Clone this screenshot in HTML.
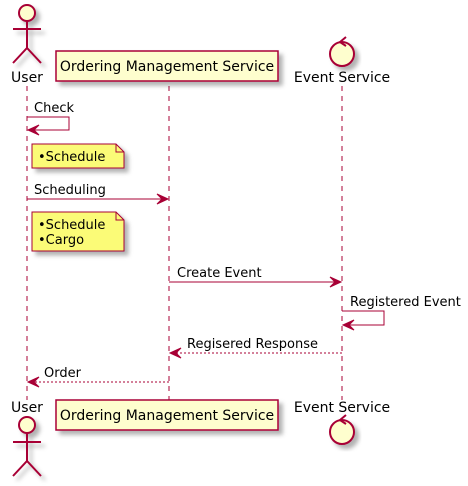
<!DOCTYPE html>
<html><head><meta charset="utf-8"><style>html,body{margin:0;padding:0;background:#fff}svg{display:block}text{font-family:"DejaVu Sans",sans-serif;font-size:13px;fill:#000}</style></head><body>
<svg width="468" height="486" viewBox="0 0 468 486" xmlns="http://www.w3.org/2000/svg">
<defs><filter id="sh" x="-20%" y="-20%" width="150%" height="150%"><feDropShadow dx="4" dy="4" stdDeviation="2" flood-color="#000" flood-opacity="0.3"/></filter></defs>
<g stroke="#A80036" stroke-width="1" stroke-dasharray="5,5">
<line x1="27" y1="86" x2="27" y2="400"/>
<line x1="169" y1="86" x2="169" y2="400"/>
<line x1="342" y1="86" x2="342" y2="400"/>
</g>
<g stroke="#A80036" stroke-width="2" fill="#FEFECE" filter="url(#sh)">
<circle cx="27" cy="13" r="8"/>
<line x1="27" y1="21" x2="27" y2="48"/><line x1="13" y1="29" x2="41" y2="29"/>
<polyline points="13,63 27,48 41,63" fill="none"/>
</g>
<text x="27" y="82" text-anchor="middle" style="font-size:14px">User</text>
<rect x="56" y="51" width="222" height="30" fill="#FEFECE" stroke="#A80036" stroke-width="1.5" filter="url(#sh)"/>
<text x="167" y="71" text-anchor="middle" style="font-size:14px">Ordering Management Service</text>
<g filter="url(#sh)"><circle cx="342" cy="54" r="12" fill="#FEFECE" stroke="#A80036" stroke-width="2"/></g>
<polyline points="346,37 340,42 346,46" fill="none" stroke="#A80036" stroke-width="2"/>
<text x="342" y="82" text-anchor="middle" style="font-size:14px">Event Service</text>
<text x="27" y="412" text-anchor="middle" style="font-size:14px">User</text>
<g stroke="#A80036" stroke-width="2" fill="#FEFECE" filter="url(#sh)">
<circle cx="27" cy="425" r="8"/>
<line x1="27" y1="433" x2="27" y2="461"/><line x1="13" y1="442" x2="41" y2="442"/>
<polyline points="13,476 27,461 41,476" fill="none"/>
</g>
<rect x="56" y="400" width="222" height="30" fill="#FEFECE" stroke="#A80036" stroke-width="1.5" filter="url(#sh)"/>
<text x="167" y="420" text-anchor="middle" style="font-size:14px">Ordering Management Service</text>
<text x="342" y="412" text-anchor="middle" style="font-size:14px">Event Service</text>
<g filter="url(#sh)"><circle cx="342" cy="432" r="12" fill="#FEFECE" stroke="#A80036" stroke-width="2"/></g>
<polyline points="346,415 340,420 346,424" fill="none" stroke="#A80036" stroke-width="2"/>
<g stroke="#A80036" stroke-width="1" fill="none">
<polyline points="27,117 69,117 69,130 28,130"/>
<line x1="27" y1="199" x2="168" y2="199"/>
<line x1="169" y1="282" x2="341" y2="282"/>
<polyline points="342,311 384,311 384,325 343,325"/>
<line x1="342" y1="353" x2="170" y2="353" stroke-dasharray="2,2"/>
<line x1="169" y1="382" x2="28" y2="382" stroke-dasharray="2,2"/>
</g>
<g fill="#A80036" stroke="#A80036" stroke-width="1">
<polygon points="28,130 39,125 34,130 39,135"/>
<polygon points="168,199 157,194 162,199 157,204"/>
<polygon points="341,282 330,277 335,282 330,287"/>
<polygon points="343,325 354,320 349,325 354,330"/>
<polygon points="170,353 181,348 176,353 181,358"/>
<polygon points="28,382 39,377 34,382 39,387"/>
</g>
<text x="34" y="112">Check</text>
<text x="34" y="194">Scheduling</text>
<text x="177" y="277">Create Event</text>
<text x="350" y="306">Registered Event</text>
<text x="187" y="348">Regisered Response</text>
<text x="44" y="377">Order</text>
<g fill="#FBFB77" stroke="#A80036" stroke-width="1" filter="url(#sh)">
<path d="M32,144 H116 L124,152 V168 H32 Z"/>
<path d="M32,212 H116 L124,220 V251 H32 Z"/>
</g>
<g fill="none" stroke="#A80036"><path d="M116,144 V152 H124"/><path d="M116,212 V220 H124"/></g>
<text x="38" y="161">•Schedule</text>
<text x="38" y="229">•Schedule</text>
<text x="38" y="244">•Cargo</text>
</svg>
</body></html>
